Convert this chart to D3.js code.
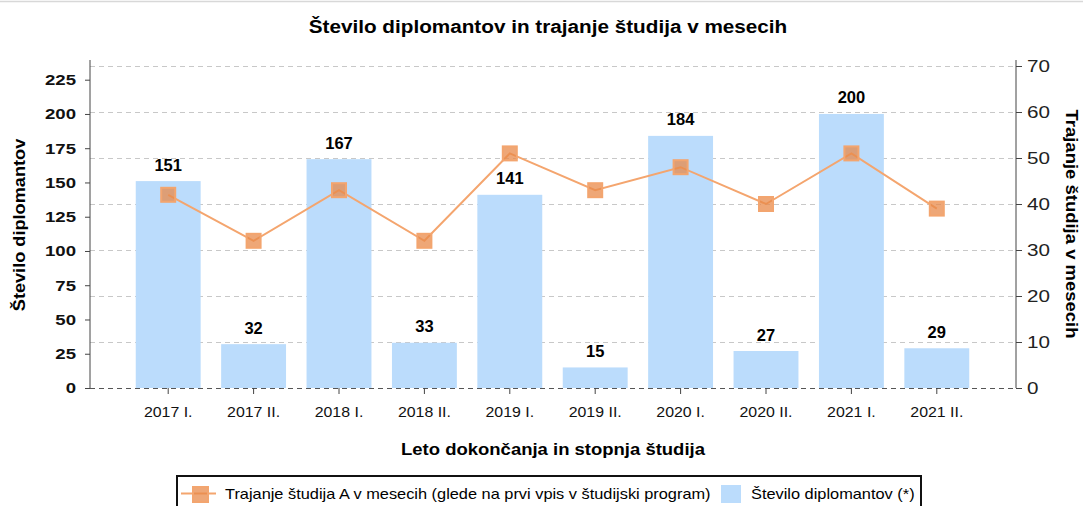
<!DOCTYPE html>
<html>
<head>
<meta charset="utf-8">
<script src="https://cdn.jsdelivr.net/npm/d3@7"></script>
<style>
  body { margin: 0; background: #fff; }
  text { font-family: "Liberation Sans", Arial, sans-serif; }
</style>
</head>
<body>
<div id="chart"></div>
<script>
"use strict";

var categories = ["2017 I.", "2017 II.", "2018 I.", "2018 II.", "2019 I.", "2019 II.", "2020 I.", "2020 II.", "2021 I.", "2021 II."];
var graduates = [151, 32, 167, 33, 141, 15, 184, 27, 200, 29];
var months = [42, 32, 43, 32, 51, 43, 48, 40, 51, 39];
var leftTicks = [0, 25, 50, 75, 100, 125, 150, 175, 200, 225];
var rightTicks = [0, 10, 20, 30, 40, 50, 60, 70];

var w = 1083,
  h = 506;
var plotLeft = 90, plotRight = 1016, plotTop = 66, plotBottom = 388;

var barColor = "#bbdcfc";
var lineColor = "#f4a56e";

var svg = d3.select("#chart").append("svg").attr("width", w).attr("height", h);

/**
 * Widen text horizontally, the reference font runs wider than ours.
 */
var stretch = function (sel, factor) {
  sel.each(function () {
    var len = this.getComputedTextLength();
    d3.select(this).attr("textLength", len * factor).attr("lengthAdjust", "spacingAndGlyphs");
  });
};

svg.append("line")
  .attr("x1", 0).attr("x2", w).attr("y1", 1.5).attr("y2", 1.5)
  .attr("stroke", "#d8d8d8").attr("stroke-width", 1.5);

var x = d3.scaleBand().domain(categories).range([125.5, 979.5]).paddingInner(0.24).paddingOuter(0.12);
var yLeft = d3.scaleLinear().domain([0, 235]).range([plotBottom, plotTop]);
var yRight = d3.scaleLinear().domain([0, 70]).range([plotBottom, plotTop]);

// title
svg.append("text")
  .attr("x", 548).attr("y", 33)
  .attr("text-anchor", "middle")
  .style("font-size", "18px").style("font-weight", "bold")
  .text("Število diplomantov in trajanje študija v mesecih")
  .call(stretch, 1.15);

// grid
svg.append("g").selectAll("line")
  .data(rightTicks)
  .enter().append("line")
  .attr("x1", plotLeft).attr("x2", plotRight)
  .attr("y1", function (d) { return Math.round(yRight(d)) + 0.5; })
  .attr("y2", function (d) { return Math.round(yRight(d)) + 0.5; })
  .attr("stroke", function (d) { return d === 0 ? "#555" : "#c8c8c8"; })
  .attr("stroke-dasharray", "5,4");

// bars
svg.append("g").selectAll("rect")
  .data(graduates)
  .enter().append("rect")
  .attr("x", function (d, i) { return x(categories[i]); })
  .attr("width", x.bandwidth())
  .attr("y", function (d) { return yLeft(d); })
  .attr("height", function (d) { return plotBottom - yLeft(d); })
  .attr("fill", barColor);

svg.append("g").selectAll("text")
  .data(graduates)
  .enter().append("text")
  .attr("x", function (d, i) { return x(categories[i]) + x.bandwidth() / 2; })
  .attr("y", function (d) { return yLeft(d) - 10.5; })
  .attr("text-anchor", "middle")
  .style("font-size", "16.5px").style("font-weight", "bold")
  .text(function (d) { return d; });

// line
var cx = function (d, i) { return x(categories[i]) + x.bandwidth() / 2; };
var line = d3.line().x(cx).y(function (d) { return yRight(d); });
svg.append("path")
  .datum(months)
  .attr("d", line)
  .attr("fill", "none")
  .attr("stroke", lineColor)
  .attr("stroke-width", 2);

svg.append("g").selectAll("rect")
  .data(months)
  .enter().append("rect")
  .attr("x", function (d, i) { return cx(d, i) - 7; })
  .attr("y", function (d) { return yRight(d) - 7; })
  .attr("width", 14).attr("height", 14)
  .attr("fill", "#e8894a").attr("fill-opacity", 0.75)
  .attr("stroke", "#f3a56f").attr("stroke-width", 2);

// axes
var leftAxis = svg.append("g")
  .attr("transform", "translate(" + plotLeft + ",0)")
  .call(d3.axisLeft(yLeft).tickValues(leftTicks).tickSize(5).tickPadding(9));
leftAxis.select(".domain").attr("d", "M0," + (plotTop - 6) + "V" + plotBottom).attr("stroke", "#444");
leftAxis.selectAll(".tick line").attr("stroke", "#444");
leftAxis.selectAll("text").style("font-size", "15.5px").style("font-weight", "bold").attr("fill", "#111")
  .style("font-family", "'Liberation Sans', Arial, sans-serif")
  .call(stretch, 1.2);

var rightAxis = svg.append("g")
  .attr("transform", "translate(" + plotRight + ",0)")
  .call(d3.axisRight(yRight).tickValues(rightTicks).tickSize(6).tickPadding(5));
rightAxis.select(".domain").attr("d", "M0," + (plotTop - 6) + "V" + plotBottom).attr("stroke", "#444");
rightAxis.selectAll(".tick line").attr("stroke", "#444");
rightAxis.selectAll("text").style("font-size", "16.5px").attr("fill", "#222")
  .style("font-family", "'Liberation Sans', Arial, sans-serif")
  .call(stretch, 1.25);

var bottomAxis = svg.append("g")
  .attr("transform", "translate(0," + plotBottom + ")")
  .call(d3.axisBottom(x).tickSize(6).tickPadding(12));
bottomAxis.select(".domain").remove();
bottomAxis.selectAll(".tick line").attr("stroke", "#444");
bottomAxis.selectAll("text").style("font-size", "15px").attr("fill", "#111")
  .style("font-family", "'Liberation Sans', Arial, sans-serif")
  .call(stretch, 1.06);

// axis titles
svg.append("text")
  .attr("transform", "translate(25,225) rotate(-90)")
  .attr("text-anchor", "middle")
  .style("font-size", "16.5px").style("font-weight", "bold")
  .text("Število diplomantov")
  .call(stretch, 1.1);

svg.append("text")
  .attr("transform", "translate(1066,224) rotate(90)")
  .attr("text-anchor", "middle")
  .style("font-size", "16.5px").style("font-weight", "bold")
  .text("Trajanje študija v mesecih")
  .call(stretch, 1.12);

svg.append("text")
  .attr("x", 553).attr("y", 455)
  .attr("text-anchor", "middle")
  .style("font-size", "16.5px").style("font-weight", "bold")
  .text("Leto dokončanja in stopnja študija")
  .call(stretch, 1.12);

// legend
var legend = svg.append("g");
legend.append("rect")
  .attr("x", 177).attr("y", 476).attr("width", 744).attr("height", 40)
  .attr("fill", "none").attr("stroke", "#111").attr("stroke-width", 2);
legend.append("line")
  .attr("x1", 181).attr("x2", 216).attr("y1", 493.5).attr("y2", 493.5)
  .attr("stroke", lineColor).attr("stroke-width", 2);
legend.append("rect")
  .attr("x", 193).attr("y", 487).attr("width", 15).attr("height", 15)
  .attr("fill", "#e8894a").attr("fill-opacity", 0.75)
  .attr("stroke", "#f3a56f").attr("stroke-width", 2);
legend.append("text")
  .attr("x", 225).attr("y", 498.5)
  .style("font-size", "15px")
  .text("Trajanje študija A v mesecih (glede na prvi vpis v študijski program)")
  .call(stretch, 1.09);
legend.append("rect")
  .attr("x", 721).attr("y", 485).attr("width", 20).attr("height", 18)
  .attr("fill", barColor);
legend.append("text")
  .attr("x", 751).attr("y", 498.5)
  .style("font-size", "15px")
  .text("Število diplomantov (*)")
  .call(stretch, 1.09);
</script>
</body>
</html>
